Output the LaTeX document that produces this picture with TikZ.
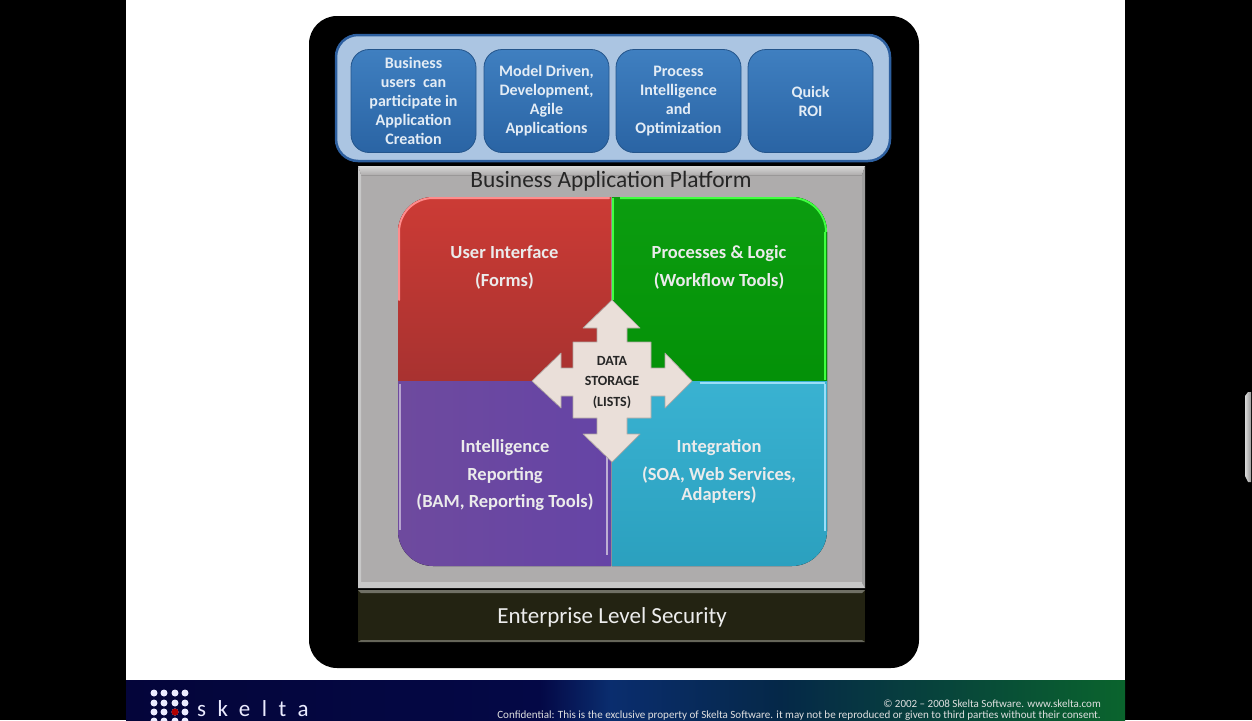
\documentclass[tikz,border=0pt]{standalone}
\usepackage{fontspec}
\setmainfont{Carlito}
\usetikzlibrary{shapes.geometric,calc}
\definecolor{cardtop}{HTML}{3F7FC0}
\definecolor{cardbot}{HTML}{2A64A4}
\definecolor{cardtxt}{HTML}{E3ECF5}
\definecolor{bandfill}{HTML}{ABC5E2}
\definecolor{bandedge}{HTML}{2D5F9F}
\definecolor{panel}{HTML}{AEACAC}
\definecolor{secfill}{HTML}{232312}
\definecolor{redtop}{HTML}{CC3B35}
\definecolor{redbot}{HTML}{A83230}
\definecolor{greenq}{HTML}{049A08}
\definecolor{purpleq}{HTML}{6E4A9E}
\definecolor{blueq}{HTML}{2FAECF}
\definecolor{crossfill}{HTML}{EADFD9}
\tikzset{
  card/.style={rounded corners=18pt,minimum width=125pt,minimum height=103pt,inner sep=0pt,outer sep=0pt,
    top color=cardtop,bottom color=cardbot,draw=cardbot!85!black,line width=.8pt,text=cardtxt,align=center,
    font=\fontsize{16}{19}\selectfont\bfseries},
  quadtxt/.style={text=white!92!black,align=center,inner sep=0pt,font=\fontsize{18.5}{20}\selectfont\bfseries},
  crosstxt/.style={text=black!85,align=center,inner sep=0pt,font=\fontsize{14}{20.5}\selectfont\bfseries},
  foot/.style={text=white!88!black,inner sep=0pt,anchor=base east},
  dot/.style={circle,fill=white!92!blue,minimum size=7pt,inner sep=0pt},
  x=1pt,y=-1pt
}
\begin{document}
\begin{tikzpicture}
\useasboundingbox (0,0) rectangle (1252,720);
% screen
\fill[black] (0,0) rectangle (1252,720);
\fill[white] (126,0) rectangle (1125,680);
\fill[left color=white!85!black,right color=white!60!black] (1245,396) -- (1248,392) -- (1251,392) -- (1251,482) -- (1248,482) -- (1245,476) -- cycle;
% footer
\fill[left color={rgb,255:red,4;green,5;blue,58},right color={rgb,255:red,4;green,8;blue,70}] (126,680) rectangle (540,720);
\fill[left color={rgb,255:red,4;green,8;blue,70},right color={rgb,255:red,10;green,45;blue,110}] (540,680) rectangle (610,720);
\fill[left color={rgb,255:red,10;green,45;blue,110},right color={rgb,255:red,5;green,40;blue,72}] (610,680) rectangle (780,720);
\fill[left color={rgb,255:red,5;green,40;blue,72},right color={rgb,255:red,10;green,100;blue,45}] (780,680) rectangle (1125,720);
% logo
\foreach \yy [count=\r] in {693,703,712,721}{
  \foreach \xx [count=\c] in {154,164,175,185}{
    \node[dot] (d\r\c) at (\xx,\yy) {};
  }
}
\node[dot,fill=red!70!black] (dred) at (175,712) {};
\node[text=white!92!blue,inner sep=0pt,anchor=base west,font=\fontsize{23}{23}\selectfont\addfontfeature{LetterSpace=50}] (skelta) at (197,716) {skelta};
\node[foot,font=\fontsize{11}{13}\selectfont] (copy) at (1101,707) {© 2002 – 2008 Skelta Software. www.skelta.com};
\node[foot,font=\fontsize{11.05}{13}\selectfont] (conf) at (1101,718) {Confidential: This is the exclusive property of Skelta Software. it may not be reproduced or given to third parties without their consent.};
% black rounded frame
\fill[black,rounded corners=28pt] (309,16) rectangle (919,668);
% top band
\draw[fill=bandfill,draw=bandedge,line width=2.5pt,rounded corners=22pt] (336,35) rectangle (890,161);
\node[card] (c1) at (413.5,101) {Business\\users\ \ can\\participate in\\Application\\Creation};
\node[card] (c2) at (546.5,101) {Model Driven,\\Development,\\Agile\\Applications};
\node[card] (c3) at (678.5,101) {Process\\Intelligence\\and\\Optimization};
\node[card] (c4) at (810.5,101) {Quick\\ROI};
% grey panel
\fill[panel] (358,166) rectangle (865,588);
\fill[top color=white!85!black,bottom color=panel] (358,166) -- (865,166) -- (862,175) -- (361,175) -- cycle;
\fill[white!78!black] (358,166) -- (361,175) -- (361,583) -- (358,588) -- cycle;
\fill[white!78!black] (358,588) -- (361,582) -- (862,582) -- (865,588) -- cycle;
\fill[white!62!black] (865,166) -- (862,175) -- (862,583) -- (865,588) -- cycle;
\node[inner sep=0pt,text=black!85,font=\fontsize{23.4}{23}\selectfont] (platform) at (611,181) {Business Application Platform};
% quadrants
\fill[top color=redtop,bottom color=redbot] (398,381) -- (398,232) arc[start angle=180,end angle=270,radius=35] -- (611,197) -- (611,381) -- cycle;
\fill[top color=greenq!97!white,bottom color=greenq!94!black] (612,381) -- (612,197) -- (792,197) arc[start angle=270,end angle=360,radius=35] -- (827,381) -- cycle;
\fill[left color=purpleq,right color=purpleq!92!blue] (398,381) -- (398,531) arc[start angle=180,end angle=90,radius=35] -- (611,566) -- (611,381) -- cycle;
\fill[top color=blueq!95!white,bottom color=blueq!92!black] (612,381) -- (612,566) -- (792,566) arc[start angle=90,end angle=0,radius=35] -- (827,381) -- cycle;
% bevels
\draw[red!45!white,line width=2pt,line cap=round] (399,300) -- (399,232) arc[start angle=180,end angle=270,radius=34] -- (609,198);
\draw[green!75!white,line width=2.5pt] (613,198) -- (613,300) (825,232) -- (825,380);
\draw[green!75!white,line width=2pt] (620,198) -- (792,198) arc[start angle=270,end angle=360,radius=34];
\draw[cyan!40!white,line width=2pt] (700,383) -- (825,383);
\draw[cyan!40!white,line width=2pt] (825,384) -- (825,531);
\draw[purpleq!50!white,line width=2pt] (400,384) -- (400,530);
\draw[purpleq!45!white,line width=2.5pt] (607,440) -- (607,555);
% cross
\draw[fill=crossfill,draw=crossfill!75!black,line width=.7pt,line join=round]
  (612,300) -- (640,328) -- (627,328) -- (627,342) -- (651,342) -- (651,368) -- (665,368) -- (665,353) -- (692,381)
  -- (665,408) -- (665,396) -- (651,396) -- (651,418) -- (627,418) -- (627,434) -- (640,434) -- (612,462)
  -- (583,434) -- (597,434) -- (597,418) -- (573,418) -- (573,396) -- (561,396) -- (561,408) -- (532,381)
  -- (561,353) -- (561,368) -- (573,368) -- (573,342) -- (597,342) -- (597,328) -- (583,328) -- cycle;
\node[crosstxt] (ds) at (612,382.5) {DATA\\STORAGE\\(LISTS)};
\node[quadtxt] (q1) at (504.5,267) {User Interface\\[8pt](Forms)};
\node[quadtxt] (q2) at (719,267) {Processes \& Logic\\[8pt](Workflow Tools)};
\node[quadtxt] (q3) at (505,475) {Intelligence\\[8pt]Reporting\\[7.5pt](BAM, Reporting Tools)};
\node[quadtxt] (q4) at (719,471) {Integration\\[8pt](SOA, Web Services,\\Adapters)};
% security
\fill[secfill] (358,590) rectangle (865,642);
\fill[white!35!secfill] (358,590) -- (865,590) -- (862,593) -- (361,593) -- cycle;
\fill[white!30!secfill] (358,642) -- (361,640) -- (862,640) -- (865,642) -- cycle;
\node[inner sep=0pt,text=white!93!black,font=\fontsize{23}{23}\selectfont] (sec) at (612,617) {Enterprise Level Security};
\end{tikzpicture}
\end{document}
